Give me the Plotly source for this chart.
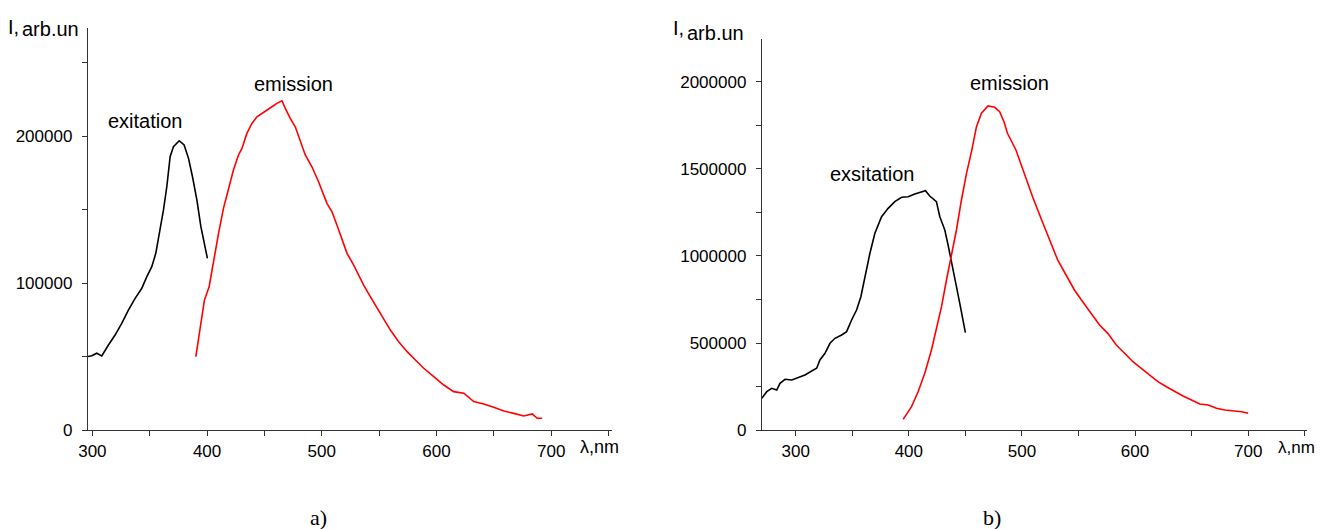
import plotly.graph_objects as go

# ---------------- data ----------------
# panel a) excitation
a_exc_wl = [295.5, 299.5, 303.8, 308.2, 314.0, 319.8, 325.6, 331.4, 337.3, 343.1,
            347.5, 351.8, 355.3, 359.1, 362.0, 364.9, 367.8, 370.7, 375.7, 380.0,
            383.8, 387.3, 391.1, 394.6, 397.7, 400.3]
a_exc_I = [49900, 50500, 52200, 50400, 57800, 64600, 72600, 81600, 89600, 96400,
           104300, 111100, 120200, 136000, 149700, 165500, 185900, 192700, 196800, 193900,
           184800, 172300, 156500, 138300, 127000, 116800]

# panel a) emission
a_em_wl = [390.2, 394.0, 397.7, 401.8, 405.6, 410.0, 414.3, 418.7, 423.0, 427.4,
           430.4, 434.7, 439.1, 443.5, 450.7, 456.5, 460.9, 465.3, 468.2, 472.5,
           476.9, 481.2, 485.6, 491.4, 497.2, 504.5, 508.9, 513.2, 517.6, 522.0,
           527.8, 532.1, 536.5, 542.3, 548.2, 554.0, 559.8, 567.0, 574.4, 581.6,
           588.9, 597.6, 606.3, 615.0, 623.8, 632.5, 641.2, 649.9, 658.7, 667.4,
           676.1, 683.4, 687.8, 692.1]
a_em_I = [49900, 70300, 88400, 97500, 115600, 133800, 150800, 164400, 176900, 187100,
          191600, 201800, 208600, 213100, 216600, 219900, 222200, 224000, 218800, 212000,
          206300, 197300, 187100, 179100, 168900, 154200, 148500, 139500, 129300, 120200,
          112200, 105400, 98600, 90700, 82800, 74800, 68000, 60100, 53300, 47600,
          42000, 36300, 30600, 26100, 25000, 19300, 17700, 15400, 12900, 11300,
          9500, 10900, 8000, 8000]

# panel b) excitation
b_exc_wl = [270.0, 274.4, 278.8, 283.2, 286.1, 290.6, 296.5, 302.3, 308.2, 314.1,
            318.5, 321.4, 325.9, 330.3, 334.7, 340.6, 345.0, 349.4, 353.8, 357.6,
            361.2, 365.6, 370.0, 375.9, 381.7, 387.6, 393.6, 399.4, 405.3, 411.2,
            414.7, 418.5, 424.4, 427.4, 431.8, 434.7, 438.2, 442.1, 445.6, 447.9, 450.0]
b_exc_I = [182200, 220100, 239600, 229900, 268400, 291400, 287400, 302900, 316100, 339100,
           354600, 402300, 440800, 498300, 527000, 546000, 565000, 632200, 689600, 766100,
           881000, 1015500, 1130400, 1225800, 1273900, 1312100, 1337300, 1340800, 1356300, 1369500,
           1375300, 1344800, 1312100, 1225800, 1149400, 1063200, 957900, 823800, 708600, 632200, 559400]

# panel b) emission
b_em_wl = [395.0, 402.4, 408.2, 414.1, 420.0, 424.4, 428.9, 433.3, 437.7, 442.1,
           446.5, 451.0, 455.4, 459.8, 464.2, 470.0, 475.9, 480.3, 484.1, 487.2,
           494.7, 502.0, 509.4, 516.8, 524.2, 531.6, 539.0, 546.4, 553.7, 561.2,
           568.6, 575.9, 583.4, 590.7, 598.1, 605.5, 612.9, 620.2, 627.7, 635.0,
           642.4, 649.9, 657.2, 664.6, 672.0, 679.4, 686.8, 694.2, 700.0]
b_em_I = [61300, 134200, 220100, 325600, 459800, 574700, 708600, 862000, 995900, 1149400,
          1321800, 1475200, 1599400, 1743000, 1820300, 1862000, 1854600, 1829300, 1771800, 1705100,
          1609200, 1475200, 1340800, 1216600, 1091900, 977000, 890800, 804600, 737300, 670500,
          603400, 555600, 488500, 440800, 392500, 354600, 316100, 277600, 248800, 220100,
          195400, 172400, 149400, 143700, 124700, 114900, 111000, 105200, 96000]

W, H = 1322, 529


def px(x):
    return x / W


def py(y):
    return 1 - y / H


fig = go.Figure()
fig.add_trace(go.Scatter(x=a_exc_wl, y=a_exc_I, mode="lines", line=dict(color="black", width=1.6),
                         xaxis="x", yaxis="y", showlegend=False))
fig.add_trace(go.Scatter(x=a_em_wl, y=a_em_I, mode="lines", line=dict(color="#ff0000", width=1.6),
                         xaxis="x", yaxis="y", showlegend=False))
fig.add_trace(go.Scatter(x=b_exc_wl, y=b_exc_I, mode="lines", line=dict(color="black", width=1.6),
                         xaxis="x2", yaxis="y2", showlegend=False))
fig.add_trace(go.Scatter(x=b_em_wl, y=b_em_I, mode="lines", line=dict(color="#ff0000", width=1.6),
                         xaxis="x2", yaxis="y2", showlegend=False))

axcol = "#333333"
tickfont = dict(family="Liberation Sans, Arial, sans-serif", size=17, color="black")
common = dict(showline=True, linecolor=axcol, linewidth=1.4, ticks="outside", ticklen=5,
              tickwidth=1.3, tickcolor=axcol, showgrid=False, zeroline=False,
              tickfont=tickfont, mirror=False, automargin=False, tickformat="d")

fig.update_layout(
    width=W, height=H, autosize=False,
    margin=dict(l=0, r=0, t=0, b=0),
    paper_bgcolor="white", plot_bgcolor="white",
    xaxis=dict(domain=[px(88), px(612)], range=[296.2, 753], anchor="y", dtick=100, tick0=0,
               minor=dict(ticks="outside", dtick=50, ticklen=5, tickwidth=1.3, tickcolor=axcol),
               **common),
    yaxis=dict(domain=[py(430), py(28)], range=[0, 273500], anchor="x", dtick=100000, tick0=0,
               minor=dict(ticks="outside", dtick=50000, ticklen=5, tickwidth=1.3, tickcolor=axcol),
               ticklabelstandoff=6, **common),
    xaxis2=dict(domain=[px(762), px(1307)], range=[270.2, 752], anchor="y2", dtick=100, tick0=0,
                minor=dict(ticks="outside", dtick=50, ticklen=5, tickwidth=1.3, tickcolor=axcol),
                **common),
    yaxis2=dict(domain=[py(430), py(39)], range=[0, 2247000], anchor="x2", dtick=500000, tick0=0,
                minor=dict(ticks="outside", dtick=250000, ticklen=5, tickwidth=1.3, tickcolor=axcol),
                ticklabelstandoff=6, **common),
)

sans = "Liberation Sans, Arial, sans-serif"
serif = "Liberation Serif, Times New Roman, serif"


def note(text, x, y, size, family=sans, xanchor="center", pad=1):
    fig.add_annotation(text=text, x=px(x), y=py(y), xref="paper", yref="paper",
                       xanchor=xanchor, yanchor="middle", showarrow=False, borderpad=pad,
                       font=dict(family=family, size=size, color="black"))


# curve labels
note("exitation", 145, 121, 20)
note("emission", 293, 84, 20)
note("exsitation", 872, 174, 20)
note("emission", 1009, 83, 20)

# y-axis labels ("I" followed by lowered ",arb.un")
note("I,", 20, 27, 20, xanchor="right", pad=0)
note("arb.un", 21, 29, 20, xanchor="left", pad=0)
note("I,", 685, 28, 20, xanchor="right", pad=0)
note("arb.un", 686, 33, 20, xanchor="left", pad=0)

# x-axis labels
note("λ,nm", 578, 447, 18, xanchor="left")
note("λ,nm", 1276, 447, 17, xanchor="left")

# panel captions
note("a)", 318, 517, 22, family=serif)
note("b)", 992, 517, 22, family=serif)

fig.write_html("out.html", config={"displayModeBar": False},
               post_script="document.body.style.margin='0';document.body.style.overflow='hidden';")
